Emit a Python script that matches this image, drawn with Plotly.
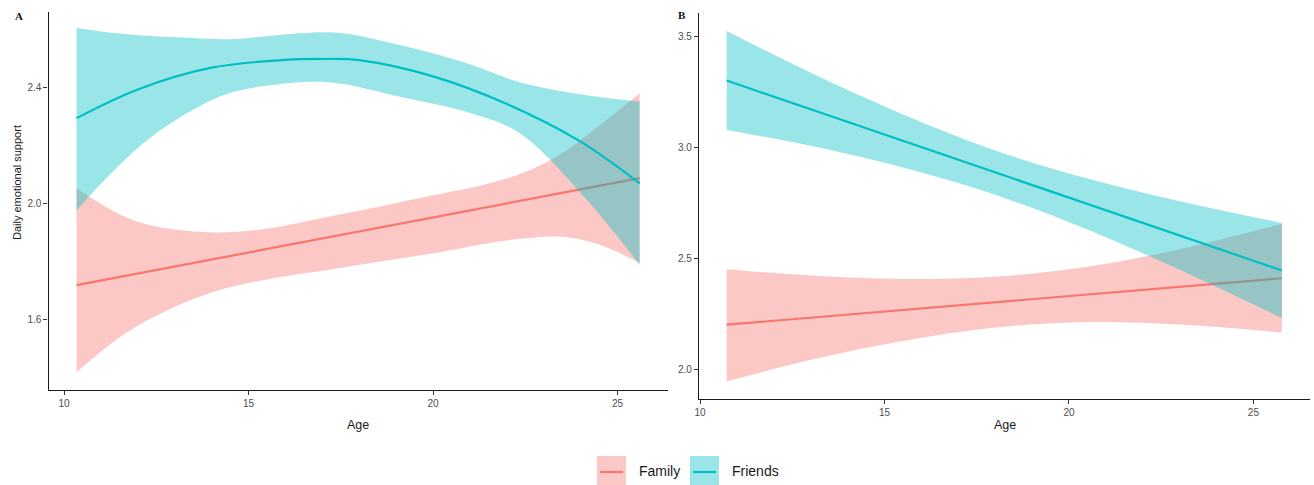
import plotly.graph_objects as go

W, H = 1314, 485
FAM = '#F8766D'
FRI = '#00BFC4'
FAM_FILL = 'rgba(248,118,109,0.4)'
FRI_FILL = 'rgba(0,191,196,0.4)'

groups = ['Family', 'Friends']
x_ticks = [10, 15, 20, 25]
yA_ticks = [1.6, 2.0, 2.4]
yB_ticks = [2.0, 2.5, 3.0, 3.5]

# ---------------- Panel A ----------------
a_fam_x = [10.34, 11.5, 12.5, 14, 15.5, 17, 18.5, 20, 21.5, 22.5, 23.5, 24.5, 25.6]
a_fam_up = [2.054, 1.965, 1.922, 1.902, 1.915, 1.952, 1.99, 2.03, 2.07, 2.11, 2.175, 2.27, 2.382]
a_fam_lo = [1.42, 1.54, 1.615, 1.695, 1.74, 1.77, 1.80, 1.83, 1.865, 1.882, 1.887, 1.86, 1.797]
a_fam_line_x = [10.34, 25.6]
a_fam_line_y = [1.72, 2.089]

a_fri_x = [10.34, 11, 12.25, 13.5, 14.5, 16.4, 17.5, 19.1, 20.9, 22.35, 24.17, 25.6]
a_fri_up = [2.607, 2.595, 2.58, 2.572, 2.568, 2.589, 2.59, 2.548, 2.486, 2.42, 2.375, 2.353]
a_fri_lo = [1.977, 2.07, 2.22, 2.325, 2.383, 2.42, 2.415, 2.37, 2.318, 2.244, 2.014, 1.79]
a_fri_line_x = [10.34, 12, 14, 16, 17, 18, 20, 22, 24, 25.6]
a_fri_line_y = [2.296, 2.395, 2.47, 2.497, 2.5, 2.496, 2.44, 2.345, 2.215, 2.071]

# ---------------- Panel B ----------------
b_x = [10.72, 13, 15.5, 18, 20.5, 23, 25.77]
b_fam_up = [2.451, 2.422, 2.407, 2.417, 2.462, 2.541, 2.655]
b_fam_lo = [1.943, 2.042, 2.127, 2.187, 2.212, 2.201, 2.165]
b_fam_line_x = [10.72, 25.77]
b_fam_line_y = [2.2, 2.41]

b_fri_up = [3.527, 3.338, 3.15, 2.987, 2.86, 2.758, 2.66]
b_fri_lo = [3.08, 3.008, 2.91, 2.787, 2.63, 2.448, 2.23]
b_fri_line_x = [10.72, 25.77]
b_fri_line_y = [3.303, 2.445]

fig = go.Figure()


def add_group(xb, lo, up, xl, yl, fill, col, xa, ya):
    fig.add_trace(go.Scatter(x=xb, y=lo, mode='lines', line=dict(width=0, shape='spline', color=fill),
                             xaxis=xa, yaxis=ya, showlegend=False, hoverinfo='skip'))
    fig.add_trace(go.Scatter(x=xb, y=up, mode='lines', line=dict(width=0, shape='spline', color=fill),
                             fill='tonexty', fillcolor=fill,
                             xaxis=xa, yaxis=ya, showlegend=False, hoverinfo='skip'))
    fig.add_trace(go.Scatter(x=xl, y=yl, mode='lines', line=dict(width=2.2, shape='spline', color=col),
                             xaxis=xa, yaxis=ya, showlegend=False))


add_group(a_fam_x, a_fam_lo, a_fam_up, a_fam_line_x, a_fam_line_y, FAM_FILL, FAM, 'x', 'y')
add_group(a_fri_x, a_fri_lo, a_fri_up, a_fri_line_x, a_fri_line_y, FRI_FILL, FRI, 'x', 'y')
add_group(b_x, b_fam_lo, b_fam_up, b_fam_line_x, b_fam_line_y, FAM_FILL, FAM, 'x2', 'y2')
add_group(b_x, b_fri_lo, b_fri_up, b_fri_line_x, b_fri_line_y, FRI_FILL, FRI, 'x2', 'y2')

axis_common = dict(showline=True, linecolor='#1a1a1a', linewidth=1.1, ticks='outside', ticklen=4,
                   tickwidth=1, tickcolor='#333333', showgrid=False, zeroline=False,
                   tickfont=dict(family='Liberation Sans, Arial, sans-serif', size=10, color='#4D4D4D'),
                   automargin=False)


def px(v):
    return v / W


def py(v):
    return 1 - v / H


fig.update_layout(
    width=W, height=H,
    margin=dict(l=0, r=0, t=0, b=0),
    paper_bgcolor='white', plot_bgcolor='white',
    showlegend=False,
    xaxis=dict(domain=[px(48.5), px(667.7)], range=[9.58, 26.36], tickvals=x_ticks, anchor='y', **axis_common),
    yaxis=dict(domain=[py(390), py(12)], range=[1.3586, 2.662], tickvals=yA_ticks,
               tickformat='.1f', anchor='x', **axis_common),
    xaxis2=dict(domain=[px(699), px(1309.5)], range=[9.97, 26.52], tickvals=x_ticks, anchor='y2', **axis_common),
    yaxis2=dict(domain=[py(399), py(13)], range=[1.8645, 3.608], tickvals=yB_ticks,
                tickformat='.1f', anchor='x2', **axis_common),
)

txt_font = dict(family='Liberation Sans, Arial, sans-serif', color='#1a1a1a')
ann = [
    dict(text='Age', x=px(358), y=py(425), xref='paper', yref='paper', showarrow=False,
         font=dict(size=12.5, **txt_font), xanchor='center', yanchor='middle'),
    dict(text='Age', x=px(1005), y=py(425), xref='paper', yref='paper', showarrow=False,
         font=dict(size=12.5, **txt_font), xanchor='center', yanchor='middle'),
    dict(text='Daily emotional support', x=px(17), y=py(183), xref='paper', yref='paper', showarrow=False,
         textangle=-90, font=dict(size=11, **txt_font), xanchor='center', yanchor='middle'),
    dict(text='<b>A</b>', x=px(13), y=py(16.5), xref='paper', yref='paper', showarrow=False,
         font=dict(family='Liberation Serif, Times New Roman, serif', size=11, color='#111'),
         xanchor='left', yanchor='middle'),
    dict(text='<b>B</b>', x=px(676), y=py(15.5), xref='paper', yref='paper', showarrow=False,
         font=dict(family='Liberation Serif, Times New Roman, serif', size=11, color='#111'),
         xanchor='left', yanchor='middle'),
]

# legend drawn manually (bottom centre)
shapes = []
leg = [(groups[0], FAM, FAM_FILL, 597, 637), (groups[1], FRI, FRI_FILL, 690, 730)]
for name, col, fill, kx, tx in leg:
    shapes.append(dict(type='rect', xref='paper', yref='paper', x0=px(kx), x1=px(kx + 29),
                       y0=py(485), y1=py(456), fillcolor=fill, line=dict(width=0)))
    shapes.append(dict(type='line', xref='paper', yref='paper', x0=px(kx + 3), x1=px(kx + 26),
                       y0=py(472), y1=py(472), line=dict(color=col, width=2.2)))
    ann.append(dict(text=name, x=px(tx), y=py(471), xref='paper', yref='paper', showarrow=False,
                    font=dict(size=14, **txt_font), xanchor='left', yanchor='middle'))

fig.update_layout(annotations=ann, shapes=shapes)
fig.write_html('out.html',
               config={'displayModeBar': False},
               post_script="document.body.style.margin='0';document.body.style.padding='0';"
                           "document.body.style.overflow='hidden';")
